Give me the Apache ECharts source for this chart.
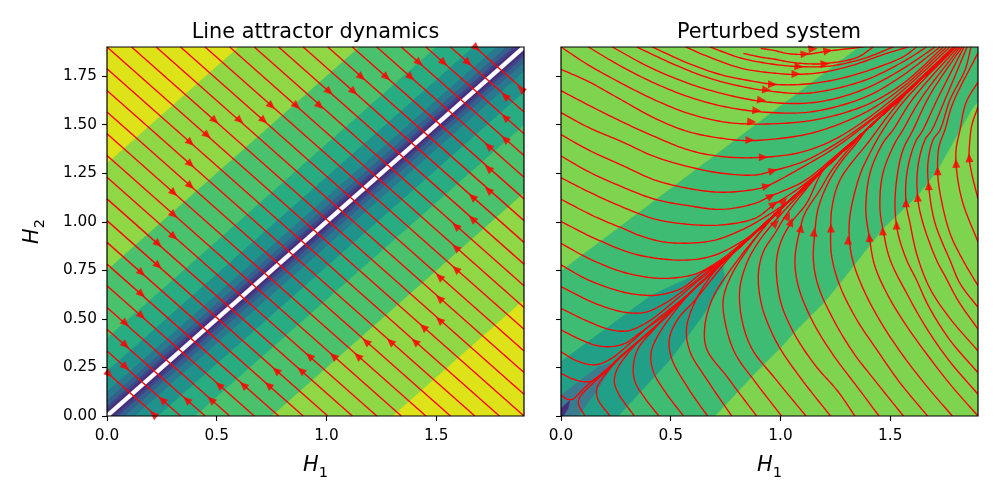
<!DOCTYPE html>
<html><head><meta charset="utf-8">
<style>html,body{margin:0;padding:0;background:#fff}#c{width:1000px;height:500px}</style>
<script src="https://cdn.jsdelivr.net/npm/echarts@6/dist/echarts.min.js"></script>
</head><body><div id="c"></div>
<script>
const titles=['Line attractor dynamics','Perturbed system'];
const xTicks=[0,0.5,1,1.5];
const yTicks=[0,0.25,0.5,0.75,1,1.25,1.5,1.75];
const axisMax=1.9;

// left panel: colour bands by distance from the diagonal
const leftBandLevels=[1.30,0.75,0.40,0.23,0.125,0.079,0.049,0.03,0.014];
const leftBandColors=['#8fd744','#4ac16d','#27ad81','#20928c','#2a788e','#35608d','#414487','#472d7b','#ffffff'];
const leftBase='#dde318';
const leftSums=[0.224,0.335,0.447,0.559,0.671,0.782,0.894,1.006,1.118,1.229,1.341,1.453,1.565,1.676,1.788,1.9,2.012,2.124,2.235,2.347,2.459,2.571,2.682,2.794,2.906,3.018,3.129,3.241,3.353,3.465,3.577];
const leftArrowsDown=[[.750,1.596],[.864,1.596],[.970,1.596],[.492,1.521],[.606,1.521],[.715,1.521],[.457,1.445],[.381,1.407],[.381,1.296],[.381,1.184],[.305,1.148],[.305,1.035],[1.423,1.819],[1.535,1.819],[1.646,1.819],[1.684,1.895],[1.160,1.744],[1.274,1.744],[1.385,1.744],[1.013,1.670],[1.125,1.670],[.305,.923],[.234,.886],[.234,.774],[.158,.736],[.158,.627],[.158,.515],[.085,.477],[.085,.364],[.085,.252],[.010,.215]];
const leftArrowsUp=[[1.886,1.684],[1.813,1.648],[1.813,1.538],[1.813,1.426],[1.737,1.390],[1.737,1.276],[1.737,1.164],[1.664,1.129],[1.664,1.016],[1.589,.978],[1.589,.867],[1.589,.757],[1.514,.717],[1.514,.606],[1.514,.494],[1.441,.458],[1.403,.383],[1.291,.383],[1.180,.383],[1.142,.309],[1.031,.309],[.922,.309],[.884,.235],[.770,.235],[.735,.160],[.621,.160],[.510,.160],[.474,.084],[.363,.084],[.251,.084],[.211,.009]];

// right panel: colour regions
const rightBase='#7ed34f';
const rightGreen=[[0,.747],[1.358,1.9],[1.9,1.9],[1.9,1.62],[1.875,1.584],[1.711,1.258],[1.620,1.129],[1.468,.966],[1.408,.881],[1.271,.683],[1.203,.589],[1.134,.512],[1.066,.434],[.998,.348],[.952,.297],[.884,.220],[.702,0],[0,0]];
const rightTeal=[[0,.280],[.413,.623],[.716,.781],[.739,.769],[.747,.700],[.648,.520],[.504,.297],[.261,0],[0,0]];
const rightBlue=[[0,.108],[.170,.254],[.223,.271],[.223,.237],[.155,.117],[.079,0],[0,0]];
const rightPurple=[[0,.039],[.041,.082],[.033,.039],[.011,0],[0,0]];
const rightColors=['#3fbc73','#21a087','#3a7c8e','#472d7b'];

// right panel: the line everything is drawn to
const spine=[[.17,.195],[.3,.333],[.43,.46],[.6,.647],[.8,.856],[1.0,1.065],[1.2,1.274],[1.4,1.483],[1.6,1.692],[1.795,1.9]];
// streamlines that run out through the top edge on their own
const rightEdgeLines=[
[[.910,1.893],[.975,1.881],[1.028,1.867],[1.112,1.862],[1.218,1.879],[1.377,1.9]],
[[.831,1.867],[.914,1.847],[.975,1.837],[1.043,1.822],[1.134,1.813],[1.203,1.815],[1.347,1.845],[1.423,1.9]],
[[.679,1.9],[.823,1.842],[.975,1.810],[1.086,1.799],[1.225,1.802],[1.377,1.840],[1.514,1.9]],
[[.568,1.9],[.671,1.850],[.823,1.790],[.975,1.765],[1.071,1.759],[1.195,1.770],[1.332,1.807],[1.484,1.867],[1.582,1.9]],
[[.416,1.9],[.580,1.816],[.732,1.756],[.884,1.722],[.967,1.708],[1.104,1.708],[1.256,1.733],[1.408,1.782],[1.560,1.850],[1.620,1.9]],
[[.345,1.9],[.504,1.816],[.656,1.747],[.793,1.704],[.937,1.675],[1.104,1.661],[1.256,1.687],[1.408,1.739],[1.560,1.825],[1.666,1.9]],
[[.234,1.9],[.398,1.799],[.580,1.713],[.732,1.661],[.914,1.620],[1.104,1.610],[1.256,1.636],[1.408,1.696],[1.560,1.790],[1.704,1.9]],
[[.125,1.9],[.276,1.799],[.428,1.713],[.580,1.644],[.732,1.596],[.891,1.568],[1.104,1.562],[1.256,1.593],[1.408,1.653],[1.560,1.756],[1.727,1.9]],
[[0,1.9],[.125,1.807],[.276,1.713],[.428,1.627],[.580,1.558],[.732,1.516],[.869,1.503],[1.104,1.516],[1.256,1.550],[1.408,1.610],[1.560,1.713],[1.742,1.9]],
[[0,1.785],[.125,1.722],[.276,1.627],[.428,1.533],[.580,1.464],[.732,1.430],[.861,1.418],[1.104,1.447],[1.256,1.498],[1.408,1.576],[1.560,1.696],[1.757,1.9]],
[[0,1.675],[.125,1.601],[.276,1.516],[.428,1.438],[.580,1.370],[.732,1.336],[.922,1.332],[1.104,1.361],[1.256,1.430],[1.408,1.541],[1.560,1.679],[1.772,1.9]],
[[0,1.562],[.125,1.486],[.276,1.413],[.428,1.335],[.580,1.284],[.732,1.250],[.884,1.241],[.967,1.263],[1.104,1.310],[1.256,1.404],[1.408,1.524],[1.560,1.661],[1.787,1.9]],
[[0,1.449],[.125,1.370],[.276,1.292],[.428,1.215],[.580,1.172],[.732,1.152],[.884,1.167],[.937,1.184],[1.104,1.284],[1.256,1.387],[1.408,1.516],[1.560,1.653],[1.795,1.9]],
// from the bottom and right edges
[[1.783,0],[1.666,.154],[1.560,.309],[1.468,.463],[1.385,.635],[1.332,.789],[1.314,.909],[1.317,1.035],[1.362,1.241],[1.408,1.354],[1.467,1.473],[1.567,1.627],[1.80,1.9]],
[[1.9,0],[1.780,.154],[1.673,.309],[1.575,.463],[1.491,.618],[1.430,.772],[1.405,.920],[1.389,1.061],[1.408,1.251],[1.467,1.406],[1.513,1.473],[1.599,1.627],[1.809,1.9]],
[[1.9,.112],[1.772,.280],[1.666,.451],[1.575,.632],[1.500,.803],[1.470,.942],[1.453,1.076],[1.467,1.251],[1.522,1.406],[1.558,1.473],[1.636,1.627],[1.818,1.9]],
[[1.9,.223],[1.772,.391],[1.676,.563],[1.620,.700],[1.575,.803],[1.535,.942],[1.522,1.076],[1.531,1.231],[1.558,1.370],[1.604,1.473],[1.681,1.653],[1.827,1.9]],
[[1.9,.335],[1.772,.503],[1.681,.657],[1.622,.829],[1.590,.994],[1.572,1.098],[1.576,1.251],[1.613,1.406],[1.649,1.473],[1.713,1.627],[1.836,1.9]],
[[1.9,.447],[1.810,.593],[1.750,.720],[1.711,.803],[1.649,.994],[1.625,1.126],[1.626,1.282],[1.658,1.421],[1.690,1.473],[1.749,1.627],[1.850,1.9]],
[[1.9,.559],[1.818,.683],[1.772,.803],[1.704,.994],[1.675,1.186],[1.672,1.303],[1.695,1.421],[1.727,1.473],[1.772,1.627],[1.841,1.782],[1.868,1.9]],
[[1.9,.671],[1.831,.803],[1.772,.942],[1.727,1.148],[1.716,1.263],[1.722,1.385],[1.749,1.473],[1.786,1.612],[1.9,1.87]],
[[1.9,.896],[1.831,1.097],[1.804,1.251],[1.800,1.370],[1.818,1.473],[1.845,1.612],[1.9,1.72]],
[[1.9,1.118],[1.871,1.251],[1.860,1.329],[1.863,1.421],[1.872,1.498],[1.9,1.591]]
];
// streamlines that merge into the spine
const rightMergingLines=[
[[0,1.339],[.125,1.258],[.276,1.181],[.428,1.116],[.580,1.083],[.732,1.064],[.884,1.095],[.957,1.133],[1.104,1.207],[1.256,1.344]],
[[0,1.227],[.125,1.155],[.276,1.078],[.428,1.014],[.580,.987],[.732,.984],[.884,1.018],[.967,1.085],[1.104,1.189],[1.256,1.335]],
[[0,1.116],[.155,1.026],[.299,.958],[.352,.932],[.459,.898],[.580,.890],[.702,.906],[.823,.958],[.907,1.009],[1.043,1.112]],
[[0,1.001],[.170,.906],[.352,.829],[.572,.803],[.702,.829],[.823,.898],[.922,.975]],
[[0,.889],[.125,.812],[.276,.743],[.398,.714],[.489,.709],[.611,.731],[.716,.795],[.823,.889]],
[[0,.778],[.125,.700],[.276,.640],[.367,.623],[.443,.623],[.549,.657],[.640,.735],[.762,.820]],
[[0,.666],[.155,.580],[.292,.534],[.383,.534],[.474,.580],[.580,.666],[.686,.760]],
[[0,.554],[.125,.486],[.231,.443],[.307,.439],[.398,.486],[.504,.580],[.611,.683]],
[[0,.443],[.094,.391],[.155,.365],[.223,.357],[.292,.374],[.367,.434],[.474,.520]],
[[0,.331],[.064,.288],[.125,.266],[.170,.266],[.231,.297],[.314,.374],[.398,.460]],
[[0,.220],[.046,.194],[.100,.177],[.140,.180],[.185,.211],[.261,.297]],
[[0,.108],[.030,.086],[.053,.086],[.083,.117],[.121,.160],[.182,.215]],
[[.109,0],[.079,.065],[.087,.100],[.170,.194]],
[[.223,0],[.170,.082],[.162,.134],[.178,.177],[.238,.263],[.314,.348]],
[[.334,0],[.261,.117],[.243,.177],[.254,.237],[.299,.314],[.360,.391]],
[[.446,0],[.383,.091],[.337,.177],[.330,.263],[.352,.348],[.428,.451]],
[[.558,0],[.474,.125],[.421,.228],[.410,.323],[.443,.417],[.535,.563]],
[[.668,0],[.580,.142],[.504,.297],[.494,.400],[.535,.503],[.611,.597],[.702,.726]],
[[.778,0],[.671,.177],[.588,.331],[.572,.451],[.611,.589],[.686,.726],[.777,.835]],
[[.891,0],[.762,.194],[.663,.348],[.656,.469],[.694,.614],[.777,.760],[.884,.915]],
[[1.005,0],[.884,.177],[.793,.323],[.747,.486],[.740,.606],[.777,.726],[.853,.863],[.922,.966]],
[[1.116,0],[.975,.194],[.869,.348],[.823,.503],[.815,.657],[.846,.786],[.891,.881],[.960,.984]],
[[1.228,0],[1.104,.177],[.998,.348],[.952,.451],[.914,.572],[.899,.726],[.922,.846],[.975,.941],[1.036,1.052]],
[[1.339,0],[1.263,.125],[1.157,.263],[1.066,.417],[1.005,.572],[.983,.709],[.983,.812],[1.005,.906],[1.051,.999],[1.119,1.095]],
[[1.449,0],[1.347,.154],[1.233,.326],[1.142,.497],[1.081,.669],[1.066,.806],[1.089,.961],[1.112,1.045],[1.180,1.164],[1.235,1.267]],
[[1.560,0],[1.438,.172],[1.332,.326],[1.241,.497],[1.172,.669],[1.150,.806],[1.157,.949],[1.170,1.061],[1.208,1.179],[1.265,1.290],[1.35,1.41]],
[[1.670,0],[1.544,.172],[1.438,.343],[1.347,.497],[1.271,.669],[1.233,.824],[1.229,.966],[1.235,1.076],[1.271,1.215],[1.408,1.421],[1.5,1.56]]
];
// arrows: x, y, heading in degrees counter-clockwise from straight up
const rightArrows=[
[1.112,1.864,-85],[1.148,1.89,-85],[1.216,1.881,-80],[1.084,1.799,-95],[1.203,1.813,-85],[1.071,1.761,-90],[.964,1.708,-92],[.937,1.679,-95],[.914,1.627,-95],[.892,1.572,-95],[.869,1.515,-93],[.861,1.421,-90],[.922,1.332,-90],[.966,1.263,-75],[.937,1.184,-75],[.957,1.133,-60],[.970,1.092,-55],[.993,1.045,-50],[.979,.994,-45],[1.016,1.107,-45],[1.034,1.030,-25],[1.048,.999,-20],[1.093,.968,-10],[1.153,.947,-5],[1.230,.968,0],[1.308,.906,0],[1.405,.920,5],[1.466,.953,3],[1.529,.984,0],[1.572,1.098,0],[1.625,1.126,3],[1.675,1.186,3],[1.716,1.263,0],[1.800,1.301,3],[1.860,1.330,3]
];

const FONT='DejaVu Sans';
const RED='#ff0000';
function bandPolygon(d){return [[0,d],[axisMax-d,axisMax],[axisMax,axisMax],[axisMax,axisMax-d],[d,0],[0,0]];}
function boxPolygon(){return [[0,0],[0,axisMax],[axisMax,axisMax],[axisMax,0]];}
const leftPolys=[{p:boxPolygon(),c:leftBase}].concat(leftBandLevels.map((d,i)=>({p:bandPolygon(d),c:leftBandColors[i]})));
const rightPolys=[{p:boxPolygon(),c:rightBase},{p:rightGreen,c:rightColors[0]},{p:rightTeal,c:rightColors[1]},{p:rightBlue,c:rightColors[2]},{p:rightPurple,c:rightColors[3]}];

function fillSeries(polys,g){
  return {type:'custom',xAxisIndex:g,yAxisIndex:g,silent:true,z:1,clip:true,coordinateSystem:'cartesian2d',
    data:polys.map((_,i)=>[i]),encode:{x:[],y:[]},
    renderItem:function(params,api){const o=polys[api.value(0)];
      return {type:'polygon',shape:{points:o.p.map(q=>api.coord(q))},style:{fill:o.c,stroke:o.c,lineWidth:0.3}};}};
}
function frameSeries(g){
  return {type:'custom',xAxisIndex:g,yAxisIndex:g,silent:true,z:20,clip:false,coordinateSystem:'cartesian2d',
    data:[[0]],encode:{x:[],y:[]},
    renderItem:function(params,api){
      return {type:'polygon',shape:{points:boxPolygon().map(q=>api.coord(q))},style:{fill:'none',stroke:'#000',lineWidth:1.2}};}};
}
function lineSeries(pts,g){
  return {type:'line',xAxisIndex:g,yAxisIndex:g,data:pts,showSymbol:false,symbol:'none',silent:true,z:5,clip:true,
    lineStyle:{color:RED,width:1.35},animation:false};
}
// smooth drawing of a read polyline (centripetal spline through the read points, in screen space)
function splinePath(pts){
  const out=[];
  const P=i=>pts[Math.max(0,Math.min(pts.length-1,i))];
  for(let i=0;i<pts.length-1;i++){
    const p1=P(i),p2=P(i+1);
    let p0=P(i-1),p3=P(i+2);
    if(i===0)p0=[2*p1[0]-p2[0],2*p1[1]-p2[1]];
    if(i===pts.length-2)p3=[2*p2[0]-p1[0],2*p2[1]-p1[1]];
    const dt=(a,b)=>Math.max(1e-3,Math.pow(Math.hypot(a[0]-b[0],a[1]-b[1]),0.5));
    const d0=dt(p0,p1),d1=dt(p1,p2),d2=dt(p2,p3);
    const t=[0,1].map(k=>{
      const m1=(p2[k]-p1[k]+d1*((p1[k]-p0[k])/d0-(p2[k]-p0[k])/(d0+d1)));
      const m2=(p2[k]-p1[k]+d1*((p3[k]-p2[k])/d2-(p3[k]-p1[k])/(d1+d2)));
      return [m1,m2];
    });
    const n=10;
    for(let j=(i===0?0:1);j<=n;j++){
      const s=j/n,s2=s*s,s3=s2*s;
      const h=k=>(2*s3-3*s2+1)*p1[k]+(s3-2*s2+s)*t[k][0]+(-2*s3+3*s2)*p2[k]+(s3-s2)*t[k][1];
      out.push([h(0),h(1)]);
    }
  }
  return out;
}
function streamSeries(lines,g){
  return {type:'custom',xAxisIndex:g,yAxisIndex:g,silent:true,z:5,clip:true,coordinateSystem:'cartesian2d',
    data:lines.map((_,i)=>[i]),encode:{x:[],y:[]},
    renderItem:function(params,api){
      const pts=lines[api.value(0)].map(q=>api.coord(q));
      return {type:'polyline',shape:{points:splinePath(pts)},style:{fill:'none',stroke:RED,lineWidth:1.35,lineJoin:'round'}};}};
}
function arrowSeries(data,g){
  return {type:'scatter',xAxisIndex:g,yAxisIndex:g,silent:true,z:6,clip:true,symbol:'triangle',symbolSize:[8,9],
    itemStyle:{color:RED},data:data};
}
const series=[fillSeries(leftPolys,0),fillSeries(rightPolys,1),frameSeries(0),frameSeries(1)];
leftSums.forEach(c=>{
  const a=c<=axisMax?[0,c]:[c-axisMax,axisMax];
  const b=c<=axisMax?[c,0]:[axisMax,c-axisMax];
  series.push(lineSeries([a,b],0));
});
series.push(arrowSeries(leftArrowsDown.map(p=>({value:p,symbolRotate:228.5})).concat(leftArrowsUp.map(p=>({value:p,symbolRotate:48.5}))),0));
const mergedLines=rightMergingLines.map(l=>{
  const last=l[l.length-1];
  return l.concat(spine.filter(q=>q[0]>last[0]+0.04));
});
series.push(streamSeries(rightEdgeLines.concat(mergedLines),1));
series.push(arrowSeries(rightArrows.map(a=>({value:[a[0],a[1]],symbolRotate:a[2]})),1));

const labelStyle={color:'#000',fontFamily:FONT,fontSize:15.3};
const nameRich={i:{fontFamily:FONT,fontStyle:'italic',fontSize:20.8,color:'#000',verticalAlign:'bottom',padding:[0,0,5,0]},
                s:{fontFamily:FONT,fontSize:14.6,color:'#000',verticalAlign:'bottom'}};
function xAxis(g){return {type:'value',gridIndex:g,min:0,max:axisMax,
  axisLine:{show:false},splitLine:{show:false},
  axisTick:{show:true,length:5,customValues:xTicks,lineStyle:{color:'#000',width:1.1}},
  axisLabel:Object.assign({show:true,margin:13,customValues:xTicks,formatter:v=>v.toFixed(1)},labelStyle),
  name:'{i|H}{s|1}',nameLocation:'middle',nameGap:39,
  nameTextStyle:{fontFamily:FONT,rich:nameRich}};}
function yAxis(g){return {type:'value',gridIndex:g,min:0,max:axisMax,
  axisLine:{show:false},splitLine:{show:false},
  axisTick:{show:true,length:5,customValues:yTicks,lineStyle:{color:'#000',width:1.1}},
  axisLabel:Object.assign({show:g===0,margin:10,customValues:yTicks,formatter:v=>v.toFixed(2)},labelStyle),
  name:g===0?'{i|H}{s|2}':'',nameLocation:'middle',nameGap:59,nameRotate:90,
  nameTextStyle:{fontFamily:FONT,rich:nameRich}};}

const chart=echarts.init(document.getElementById('c'),null,{renderer:'canvas'});
chart.setOption({
  animation:false,backgroundColor:'#fff',
  title:[
    {text:titles[0],left:310.5,top:17.5,textAlign:'center',textStyle:{fontFamily:FONT,fontWeight:'normal',fontSize:20.8,color:'#000'}},
    {text:titles[1],left:764,top:17.5,textAlign:'center',textStyle:{fontFamily:FONT,fontWeight:'normal',fontSize:20.8,color:'#000'}}
  ],
  grid:[{left:107,top:47,width:417,height:369},{left:561,top:47,width:417,height:369}],
  xAxis:[xAxis(0),xAxis(1)],
  yAxis:[yAxis(0),yAxis(1)],
  series:series
});
</script></body></html>
